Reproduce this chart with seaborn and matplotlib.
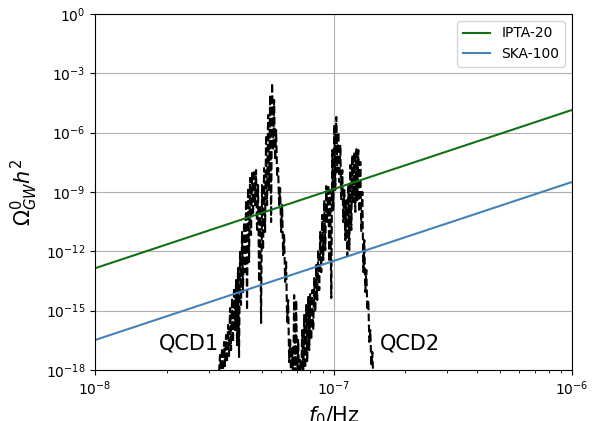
import numpy as np
import pandas as pd
import matplotlib
matplotlib.use("Agg")
import matplotlib.pyplot as plt
import matplotlib.ticker as mticker
import seaborn as sns

# sensitivity curves (end points, straight lines in log-log)
det_freq = [1e-8, 1e-6]
ipta20 = [1.4e-13, 1.4e-5]
ska100 = [3.3e-17, 3.2e-9]

# QCD spectrum: frequency in nHz, log10(Omega h^2)
qcd_freq_nhz = [
    33.11, 33.43, 33.75, 34.08, 34.41, 34.75, 35.08, 35.42, 35.77, 36.11,
    36.46, 36.82, 37.18, 37.54, 37.90, 38.27, 38.64, 39.01, 39.39, 39.77,
    40.16, 40.55, 40.94, 41.34, 41.74, 42.15, 42.56, 42.97, 43.39, 43.81,
    44.24, 44.66, 45.10, 45.54, 45.98, 46.43, 46.88, 47.33, 47.79, 48.26,
    48.73, 49.20, 49.68, 50.16, 50.65, 51.14, 51.64, 52.14, 52.65, 53.16,
    53.68, 54.20, 54.73, 55.26, 55.80, 56.34, 56.89, 57.44, 58.00, 58.57,
    59.14, 59.71, 60.29, 60.88, 61.47, 62.07, 62.67, 63.28, 63.90, 64.52,
    65.15, 65.78, 66.42, 67.07, 67.72, 68.38, 69.05, 69.72, 70.40, 71.08,
    71.77, 72.47, 73.18, 73.89, 74.61, 75.33, 76.06, 76.80, 77.55, 78.31,
    79.07, 79.84, 80.61, 81.40, 82.19, 82.99, 83.80, 84.61, 85.44, 86.27,
    87.11, 87.95, 88.81, 89.67, 90.55, 91.43, 92.32, 93.21, 94.12, 95.04,
    95.96, 96.89, 97.83, 98.79, 99.74, 100.71, 101.69, 102.68, 103.68, 104.69,
    105.71, 106.73, 107.77, 108.82, 109.88, 110.94, 112.02, 113.11, 114.21, 115.32,
    116.44, 117.57, 118.71, 119.86, 121.03, 122.21, 123.39, 124.59, 125.80, 127.03,
    128.26, 129.51, 130.77, 132.04, 133.32, 134.61, 135.92, 137.24, 138.58, 139.92,
    141.28, 142.66, 144.04, 145.44, 146.85, 148.28,
]
qcd_log_omega = [
    -18.10, -17.24, -18.00, -16.89, -18.00, -16.58, -17.80, -16.23, -17.60, -15.72,
    -17.29, -14.87, -16.99, -14.36, -16.58, -13.85, -15.98, -13.45, -16.74, -12.84,
    -17.34, -12.03, -14.71, -11.02, -14.06, -10.52, -13.05, -9.41, -14.97, -8.80,
    -12.54, -8.29, -11.17, -8.04, -10.16, -7.89, -9.66, -7.89, -11.02, -8.65,
    -13.55, -9.66, -15.62, -8.65, -11.93, -7.79, -11.02, -6.12, -9.66, -5.11,
    -8.90, -4.10, -10.52, -3.49, -6.88, -4.35, -7.38, -5.87, -8.14, -7.79,
    -9.66, -8.80, -11.02, -9.66, -12.19, -11.17, -13.55, -12.54, -15.57, -14.46,
    -17.60, -16.48, -18.51, -16.89, -18.51, -14.21, -18.10, -14.46, -18.51, -16.48,
    -18.51, -17.49, -18.51, -15.98, -18.25, -15.22, -17.90, -14.71, -17.60, -14.26,
    -16.99, -14.16, -16.48, -13.96, -15.98, -13.35, -15.07, -12.69, -14.46, -11.93,
    -13.96, -11.02, -13.05, -10.16, -12.44, -9.41, -11.93, -8.70, -10.52, -8.65,
    -12.54, -8.90, -14.36, -6.88, -9.91, -5.61, -8.90, -5.21, -7.99, -5.97,
    -8.49, -6.62, -9.41, -7.89, -10.52, -8.90, -11.43, -9.41, -12.24, -8.65,
    -11.93, -7.64, -10.92, -7.13, -9.51, -6.98, -10.01, -6.78, -9.41, -6.88,
    -10.01, -7.48, -11.02, -9.00, -13.05, -11.43, -14.06, -12.94, -14.97, -14.46,
    -16.58, -15.98, -17.80, -17.09, -18.51, -18.00,
]

qcd = pd.DataFrame({
    "f": np.array(qcd_freq_nhz) * 1e-9,
    "omega": 10.0 ** np.array(qcd_log_omega),
})
det = pd.DataFrame({"f": det_freq, "IPTA-20": ipta20, "SKA-100": ska100})

fig, ax = plt.subplots(figsize=(5.94, 4.21), dpi=100)
fig.subplots_adjust(left=0.16, right=0.963, top=0.967, bottom=0.121)

sns.lineplot(data=qcd, x="f", y="omega", ax=ax, color="black",
             linestyle="--", linewidth=1.5, sort=False, estimator=None)
sns.lineplot(data=det, x="f", y="IPTA-20", ax=ax, color="#157015",
             linewidth=1.5, label="IPTA-20")
sns.lineplot(data=det, x="f", y="SKA-100", ax=ax, color="steelblue",
             linewidth=1.5, label="SKA-100")

ax.set_xscale("log")
ax.set_yscale("log")
ax.set_xlim(1e-8, 1e-6)
ax.set_ylim(1e-18, 1e0)
ax.set_yticks([1e-18, 1e-15, 1e-12, 1e-9, 1e-6, 1e-3, 1e0])
ax.yaxis.set_minor_locator(mticker.NullLocator())
ax.grid(True)

ax.text(2.47e-8, 2.3e-17, "QCD1", fontsize=15, ha="center", va="center")
ax.text(2.09e-7, 2.3e-17, "QCD2", fontsize=15, ha="center", va="center")

ax.set_xlabel("$f_0$/Hz", fontsize=15)
ax.set_ylabel("$\\Omega^0_{GW}h^2$", fontsize=15)
ax.legend(loc="upper right")

plt.savefig("out.png")
